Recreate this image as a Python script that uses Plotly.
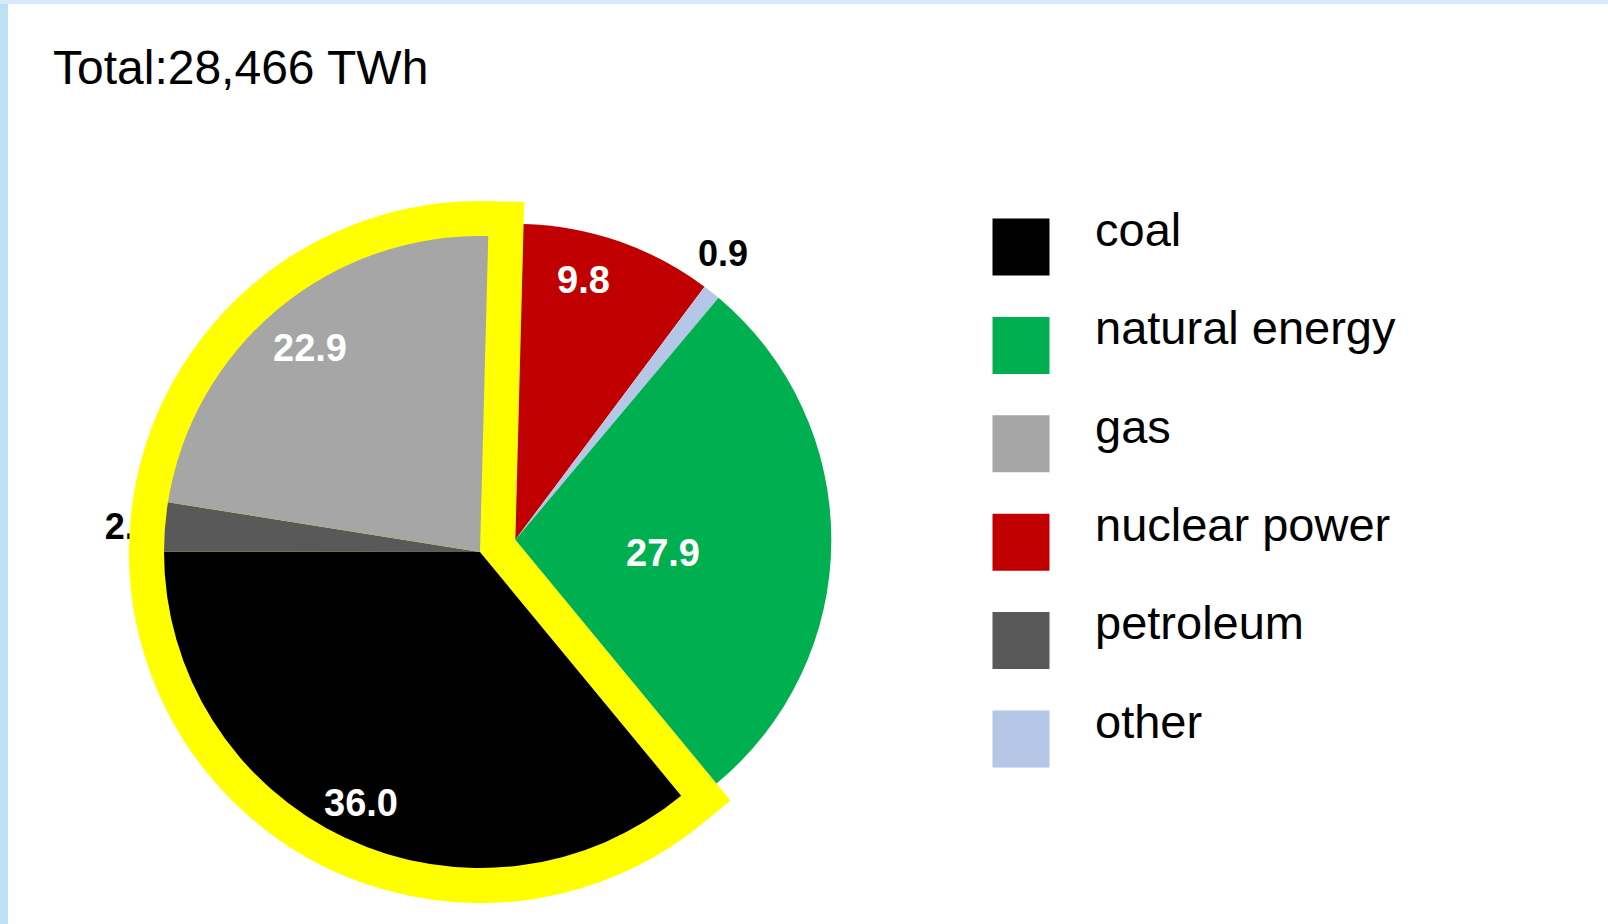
import math
import plotly.graph_objects as go

# ---------------- data ----------------
title_text = "Total:28,466 TWh"
# slice order clockwise from 12 o'clock
slice_labels = ["nuclear power", "other", "natural energy", "coal", "petroleum", "gas"]
slice_values = [9.8, 0.9, 27.9, 36.0, 2.5, 22.9]
fossil = ["coal", "petroleum", "gas"]

legend_labels = ["coal", "natural energy", "gas", "nuclear power", "petroleum", "other"]
colors = {
    "coal": "#000000",
    "natural energy": "#00B050",
    "gas": "#A6A6A6",
    "nuclear power": "#C00000",
    "petroleum": "#595959",
    "other": "#B4C7E7",
}

# ---------------- layout / style constants ----------------
W, H = 1608, 924
FONT = "Liberation Sans, Arial, sans-serif"
R = 316                 # pie radius (px)
CX, CY = 480, 552       # fossil group centre (px)
ROT = 1.5
STROKE = 70             # yellow outline stroke width (half visible)
TRANSP = "rgba(0,0,0,0)"
# label distance from centre (fraction of radius) and angular nudge (deg)
LABEL_R = {"nuclear power": 0.85, "other": 1.12, "natural energy": 0.47, "coal": 0.88, "gas": 0.84}
LABEL_DA = {"nuclear power": -4.5, "other": -2.5, "natural energy": 5.0}
LABEL_STYLE = {"other": ("black", 36)}

total = sum(slice_values)
nonfossil_sum = sum(v for l, v in zip(slice_labels, slice_values) if l not in fossil)
fossil_sum = sum(v for l, v in zip(slice_labels, slice_values) if l in fossil)

# offset of the non-fossil group so its vertex sits in the outline corner
theta = nonfossil_sum / total * 2 * math.pi
bis = math.radians(ROT) + theta / 2
d = (STROKE / 2) / math.sin(theta / 2)
NX, NY = CX + d * math.sin(bis), CY - d * math.cos(bis)


def domain(cx, cy):
    return dict(x=[(cx - R) / W, (cx + R) / W], y=[1 - (cy + R) / H, 1 - (cy - R) / H])


fmt = [f"{v:.1f}" for v in slice_values]
common = dict(
    labels=slice_labels, values=slice_values, sort=False, direction="clockwise",
    rotation=ROT, hoverinfo="skip", showlegend=False,
)

fig = go.Figure()

# label-only layer for petroleum (sits under the yellow outline)
fig.add_trace(go.Pie(
    **common, domain=domain(CX, CY), textinfo="text", textposition="outside",
    outsidetextfont=dict(family=FONT, size=36, color="black", weight="bold"),
    marker=dict(colors=[TRANSP] * len(slice_labels), line=dict(width=0)),
    text=[t if l == "petroleum" else "" for l, t in zip(slice_labels, fmt)],
))

# yellow outline of fossil group
fig.add_trace(go.Pie(
    labels=["non-fossil", "fossil"], values=[nonfossil_sum, fossil_sum],
    sort=False, direction="clockwise", rotation=ROT, textinfo="none",
    hoverinfo="skip", showlegend=False, domain=domain(CX, CY),
    marker=dict(colors=[TRANSP, "#FFFF00"],
                line=dict(color=[TRANSP, "#FFFF00"], width=[0, STROKE])),
))

# fossil slices
fig.add_trace(go.Pie(
    **common, domain=domain(CX, CY), textinfo="none",
    marker=dict(colors=[colors[l] if l in fossil else TRANSP for l in slice_labels],
                line=dict(width=0)),
))

# non-fossil slices
fig.add_trace(go.Pie(
    **common, domain=domain(NX, NY), textinfo="none",
    marker=dict(colors=[TRANSP if l in fossil else colors[l] for l in slice_labels],
                line=dict(width=0)),
))

# value labels placed along each slice's bisector
annotations = []
cum = 0.0
for l, v, t in zip(slice_labels, slice_values, fmt):
    mid = math.radians(ROT + LABEL_DA.get(l, 0.0)) + (cum + v / 2) / total * 2 * math.pi
    cum += v
    if l not in LABEL_R:
        continue
    cx, cy = (CX, CY) if l in fossil else (NX, NY)
    rr = LABEL_R[l] * R
    col, size = LABEL_STYLE.get(l, ("white", 38))
    annotations.append(dict(
        text=f"<b>{t}</b>", x=cx + rr * math.sin(mid), y=cy - rr * math.cos(mid),
        xref="x", yref="y", showarrow=False, xanchor="center", yanchor="middle",
        font=dict(family=FONT, size=size, color=col)))

annotations.append(dict(text=title_text, x=51, y=67, xref="x", yref="y",
                        xanchor="left", yanchor="middle", showarrow=False,
                        font=dict(family=FONT, size=48, color="black")))

# custom legend
LEG_X, LEG_TEXT_X, LEG_TOP, LEG_STEP, LEG_SIZE = 1021, 1095, 247, 98.4, 57
leg_y = [LEG_TOP + i * LEG_STEP for i in range(len(legend_labels))]
fig.add_trace(go.Scatter(
    x=[LEG_X] * len(legend_labels), y=leg_y, mode="markers", hoverinfo="skip",
    showlegend=False,
    marker=dict(symbol="square", size=LEG_SIZE, color=[colors[l] for l in legend_labels],
                line=dict(width=0)),
))
fig.add_trace(go.Scatter(
    x=[LEG_TEXT_X] * len(legend_labels), y=[y - 13 for y in leg_y], mode="text",
    text=legend_labels, textposition="middle right", hoverinfo="skip", showlegend=False,
    textfont=dict(family=FONT, size=47, color="black"),
))

fig.update_layout(
    width=W, height=H, margin=dict(l=0, r=0, t=0, b=0),
    paper_bgcolor="white", plot_bgcolor="white",
    xaxis=dict(range=[0, W], visible=False, fixedrange=True),
    yaxis=dict(range=[H, 0], visible=False, fixedrange=True),
    shapes=[
        dict(type="rect", xref="x", yref="y", x0=0, x1=8, y0=0, y1=H,
             fillcolor="#BDE0F5", line=dict(width=0), layer="above"),
        dict(type="rect", xref="x", yref="y", x0=0, x1=W, y0=0, y1=4,
             fillcolor="#D6EBF9", line=dict(width=0), layer="above"),
    ],
    annotations=annotations,
)

post = (
    "document.body.style.margin='0';"
    "document.querySelectorAll('.pielayer path.surface').forEach(function(p){"
    "p.style.strokeLinejoin='miter';p.style.strokeMiterlimit='10';});"
)
fig.write_html("out.html", config={"displayModeBar": False}, post_script=post)
